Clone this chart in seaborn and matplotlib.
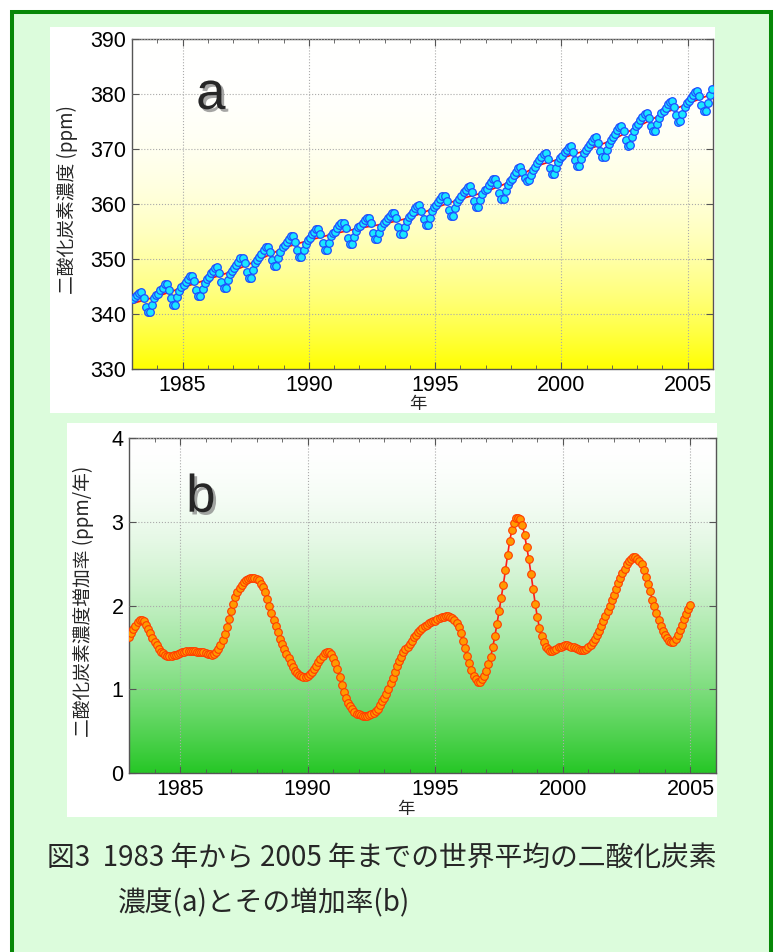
import numpy as np
import pandas as pd
import matplotlib.pyplot as plt
import matplotlib.patheffects as pe
from matplotlib.patches import Rectangle
from matplotlib.ticker import MultipleLocator
import seaborn as sns

# (a) 世界平均の月平均濃度 ppm, 1983年1月〜2005年12月
co2_monthly = [
    342.7, 343.1, 343.5, 343.8, 344.0, 342.9, 341.2, 340.3, 340.4, 341.7, 342.9, 343.5,  # 1983
    343.7, 344.3, 344.8, 345.4, 345.4, 344.4, 342.9, 341.7, 341.7, 343.1, 344.2, 344.9,  # 1984
    345.3, 345.9, 346.4, 346.9, 347.0, 346.0, 344.4, 343.2, 343.3, 344.6, 345.7, 346.4,  # 1985
    346.8, 347.4, 347.9, 348.4, 348.5, 347.5, 345.9, 344.7, 344.8, 346.1, 347.2, 347.9,  # 1986
    348.3, 349.0, 349.5, 350.1, 350.2, 349.2, 347.7, 346.6, 346.6, 348.0, 349.2, 349.9,  # 1987
    350.3, 351.0, 351.6, 352.1, 352.2, 351.3, 349.8, 348.7, 348.8, 350.1, 351.3, 352.1,  # 1988
    352.5, 353.1, 353.6, 354.1, 354.1, 353.1, 351.6, 350.4, 350.4, 351.7, 352.8, 353.5,  # 1989
    353.9, 354.5, 355.0, 355.5, 355.5, 354.5, 352.9, 351.7, 351.7, 353.0, 354.1, 354.8,  # 1990
    355.0, 355.6, 356.1, 356.6, 356.6, 355.6, 353.9, 352.7, 352.7, 354.0, 355.1, 355.8,  # 1991
    356.0, 356.6, 357.1, 357.5, 357.5, 356.5, 354.8, 353.6, 353.6, 354.8, 355.9, 356.6,  # 1992
    356.9, 357.4, 357.9, 358.4, 358.4, 357.4, 355.8, 354.6, 354.6, 355.9, 357.0, 357.7,  # 1993
    358.0, 358.6, 359.2, 359.7, 359.8, 358.8, 357.3, 356.1, 356.2, 357.5, 358.7, 359.4,  # 1994
    359.8, 360.4, 360.9, 361.5, 361.5, 360.5, 359.0, 357.8, 357.8, 359.2, 360.3, 361.0,  # 1995
    361.5, 362.1, 362.6, 363.1, 363.2, 362.2, 360.6, 359.5, 359.5, 360.7, 361.8, 362.5,  # 1996
    362.8, 363.4, 364.0, 364.5, 364.6, 363.6, 362.0, 360.9, 361.0, 362.3, 363.5, 364.2,  # 1997
    364.6, 365.3, 365.9, 366.5, 366.7, 365.9, 364.8, 364.1, 364.3, 365.2, 366.1, 366.8,  # 1998
    367.4, 368.0, 368.5, 369.1, 369.3, 368.2, 366.5, 365.4, 365.4, 366.6, 367.7, 368.4,  # 1999
    368.8, 369.4, 369.9, 370.4, 370.6, 369.5, 368.0, 366.9, 367.0, 368.1, 369.2, 369.9,  # 2000
    370.3, 370.9, 371.5, 372.0, 372.2, 371.1, 369.6, 368.5, 368.6, 369.8, 371.0, 371.7,  # 2001
    372.1, 372.8, 373.4, 374.0, 374.1, 373.2, 371.7, 370.6, 370.7, 372.1, 373.3, 374.1,  # 2002
    374.5, 375.2, 375.8, 376.4, 376.5, 375.6, 374.1, 373.2, 373.3, 374.5, 375.7, 376.5,  # 2003
    376.9, 377.5, 378.1, 378.6, 378.7, 377.7, 376.2, 375.0, 375.1, 376.4, 377.6, 378.3,  # 2004
    378.7, 379.3, 379.9, 380.4, 380.5, 379.6, 378.0, 376.9, 377.0, 378.4, 379.8, 380.9,  # 2005
]

# 長期トレンド(赤線), 各年1月1日
trend_years = list(range(1983, 2007))
co2_trend = [341.9, 343.2, 344.8, 346.3, 347.8, 349.8, 352.0, 353.4, 354.6, 355.6,
             356.4, 357.5, 359.3, 360.9, 362.2, 364.1, 366.9, 368.3, 369.8, 371.6,
             374.0, 376.4, 378.2, 380.1]

# (b) 増加率 ppm/年, 1983年1月〜2005年1月 (毎月)
growth_rate = [
    1.62, 1.67, 1.72, 1.76, 1.80, 1.83, 1.83, 1.81, 1.77, 1.72, 1.67, 1.61,  # 1983
    1.57, 1.53, 1.48, 1.45, 1.43, 1.41, 1.40, 1.40, 1.40, 1.41, 1.41, 1.42,  # 1984
    1.43, 1.44, 1.45, 1.46, 1.46, 1.46, 1.46, 1.46, 1.45, 1.45, 1.44, 1.44,  # 1985
    1.43, 1.42, 1.42, 1.41, 1.42, 1.45, 1.48, 1.53, 1.59, 1.66, 1.74, 1.84,  # 1986
    1.93, 2.02, 2.10, 2.16, 2.21, 2.25, 2.28, 2.30, 2.32, 2.33, 2.33, 2.33,  # 1987
    2.32, 2.30, 2.26, 2.22, 2.16, 2.08, 1.99, 1.91, 1.83, 1.76, 1.68, 1.60,  # 1988
    1.54, 1.48, 1.42, 1.37, 1.31, 1.26, 1.22, 1.19, 1.17, 1.16, 1.15, 1.15,  # 1989
    1.16, 1.18, 1.21, 1.24, 1.28, 1.32, 1.36, 1.40, 1.43, 1.45, 1.45, 1.42,  # 1990
    1.37, 1.31, 1.24, 1.15, 1.05, 0.97, 0.89, 0.83, 0.80, 0.76, 0.73, 0.71,  # 1991
    0.70, 0.69, 0.68, 0.68, 0.68, 0.69, 0.70, 0.72, 0.74, 0.77, 0.81, 0.86,  # 1992
    0.90, 0.94, 1.00, 1.07, 1.14, 1.21, 1.28, 1.34, 1.39, 1.44, 1.48, 1.51,  # 1993
    1.54, 1.58, 1.62, 1.65, 1.68, 1.71, 1.73, 1.75, 1.77, 1.79, 1.80, 1.81,  # 1994
    1.82, 1.84, 1.85, 1.86, 1.86, 1.87, 1.87, 1.86, 1.85, 1.83, 1.79, 1.74,  # 1995
    1.67, 1.58, 1.49, 1.40, 1.31, 1.23, 1.16, 1.12, 1.09, 1.09, 1.12, 1.16,  # 1996
    1.22, 1.30, 1.38, 1.50, 1.63, 1.78, 1.93, 2.09, 2.25, 2.42, 2.60, 2.77,  # 1997
    2.90, 2.99, 3.04, 3.05, 3.03, 2.96, 2.84, 2.70, 2.55, 2.38, 2.20, 2.02,  # 1998
    1.86, 1.73, 1.63, 1.56, 1.51, 1.48, 1.46, 1.46, 1.47, 1.48, 1.50, 1.51,  # 1999
    1.52, 1.53, 1.53, 1.52, 1.51, 1.50, 1.49, 1.48, 1.47, 1.47, 1.47, 1.48,  # 2000
    1.50, 1.53, 1.56, 1.60, 1.65, 1.70, 1.76, 1.82, 1.87, 1.94, 2.00, 2.07,  # 2001
    2.13, 2.20, 2.27, 2.33, 2.39, 2.44, 2.49, 2.53, 2.56, 2.58, 2.58, 2.56,  # 2002
    2.53, 2.49, 2.42, 2.34, 2.26, 2.17, 2.07, 1.99, 1.91, 1.83, 1.76, 1.70,  # 2003
    1.65, 1.61, 1.58, 1.57, 1.57, 1.60, 1.65, 1.71, 1.77, 1.84, 1.90, 1.96,  # 2004
    2.01,                                                                    # 2005
]

year_ticks = [1985, 1990, 1995, 2000, 2005]
co2_ticks = [330, 340, 350, 360, 370, 380, 390]
rate_ticks = [0, 1, 2, 3, 4]

caption_1 = "図3  1983 年から 2005 年までの世界平均の二酸化炭素"
caption_2 = "濃度(a)とその増加率(b)"

df_a = pd.DataFrame({"year": 1983 + (np.arange(len(co2_monthly)) + 0.5) / 12,
                     "co2": co2_monthly})
df_t = pd.DataFrame({"year": trend_years, "co2": co2_trend})
df_b = pd.DataFrame({"year": 1983 + np.arange(len(growth_rate)) / 12,
                     "rate": growth_rate})

sns.set_style("ticks")
plt.rcParams['font.family'] = ['Liberation Sans', 'Noto Sans CJK JP']
jp = ['Noto Sans CJK JP', 'Liberation Sans']

W, H = 774, 952
fig = plt.figure(figsize=(W / 100, H / 100), dpi=100, facecolor='white')


def fx(px):
    return px / W


def fy(py):
    return 1 - py / H


# 外枠(薄緑 + 濃緑の線)
fig.patches.append(Rectangle((fx(12), -0.05), fx(771) - fx(12), fy(12) + 0.05,
                             transform=fig.transFigure, facecolor='#DCFCDC',
                             edgecolor='#078707', linewidth=2.9, zorder=-10))
# パネルの白い台紙
fig.patches.append(Rectangle((fx(50), fy(413)), fx(715) - fx(50), fy(27) - fy(413),
                             transform=fig.transFigure, facecolor='white',
                             edgecolor='none', zorder=-9))
fig.patches.append(Rectangle((fx(67), fy(817)), fx(717) - fx(67), fy(423) - fy(817),
                             transform=fig.transFigure, facecolor='white',
                             edgecolor='none', zorder=-9))

ax1 = fig.add_axes([fx(132), fy(369), fx(713) - fx(132), fy(39) - fy(369)])
ax2 = fig.add_axes([fx(129), fy(773), fx(716) - fx(129), fy(438) - fy(773)])


def gradient(ax, bottom_rgb, power):
    t = np.linspace(0, 1, 300)[:, None, None] ** power
    img = (1 - t) * np.array([1.0, 1.0, 1.0]) + t * np.array(bottom_rgb)
    x0, x1 = ax.get_xlim()
    y0, y1 = ax.get_ylim()
    ax.imshow(img, extent=[x0, x1, y0, y1], origin='upper', aspect='auto', zorder=-1)
    ax.set_xlim(x0, x1)
    ax.set_ylim(y0, y1)


def style(ax, yticks):
    ax.set_xticks(year_ticks)
    ax.set_xticklabels([str(y) for y in year_ticks])
    ax.set_yticks(yticks)
    ax.set_yticklabels([str(v) for v in yticks])
    ax.xaxis.set_minor_locator(MultipleLocator(1))
    ax.tick_params(which='both', direction='in', top=True, right=True,
                   colors='#555555', labelcolor='black')
    ax.tick_params(which='major', length=5, labelsize=15.5, pad=4)
    ax.tick_params(which='minor', length=3)
    ax.grid(True, which='major', ls=':', color='#AAAAAA', lw=0.8)
    ax.set_axisbelow(False)
    for s in ax.spines.values():
        s.set_color('#555555')
        s.set_linewidth(1.0)


shadow = [pe.withSimplePatchShadow(offset=(2, -2), shadow_rgbFace='#808080', alpha=0.7)]

# (a)
ax1.set_xlim(1983, 2006)
ax1.set_ylim(330, 390)
gradient(ax1, [1.0, 1.0, 0.0], 2.6)
sns.lineplot(data=df_t, x='year', y='co2', ax=ax1, color='#FF1010', lw=1.2, zorder=2)
sns.scatterplot(data=df_a, x='year', y='co2', ax=ax1, s=30, color='#1AE6FF',
                edgecolor='#1E4DFF', linewidth=0.9, zorder=3)
style(ax1, co2_ticks)
ax1.set_xlabel('年', fontsize=12.5, family=jp)
ax1.set_ylabel('二酸化炭素濃度 (ppm)', fontsize=13.5, family=jp)
ax1.xaxis.set_label_coords(0.492, -0.107)
ax1.xaxis.label.set_va('center')
ax1.yaxis.set_label_coords(-0.112, 0.512)
ax1.yaxis.label.set_va('center')
ax1.text(1985.54, 377.3, 'a', fontsize=38, ha='left', va='baseline', path_effects=shadow)

# (b)
ax2.set_xlim(1983, 2006)
ax2.set_ylim(0, 4)
gradient(ax2, [0.15, 0.78, 0.15], 1.8)
sns.lineplot(data=df_b, x='year', y='rate', ax=ax2, color='#FF1A1A', lw=1.2,
             marker='o', markersize=5.5, markerfacecolor='#FF9A00',
             markeredgecolor='#FF3C00', markeredgewidth=0.8, zorder=3)
style(ax2, rate_ticks)
ax2.set_xlabel('年', fontsize=12.5, family=jp)
ax2.set_ylabel('二酸化炭素濃度増加率 (ppm/年)', fontsize=13.5, family=jp)
ax2.xaxis.set_label_coords(0.472, -0.108)
ax2.xaxis.label.set_va('center')
ax2.yaxis.set_label_coords(-0.078, 0.512)
ax2.yaxis.label.set_va('center')
ax2.text(1985.24, 3.12, 'b', fontsize=38, ha='left', va='baseline', path_effects=shadow)

# 図の説明
fig.text(fx(47), fy(858), caption_1, fontsize=20, family=jp, va='center', ha='left')
fig.text(fx(118), fy(903), caption_2, fontsize=20, family=jp, va='center', ha='left')

fig.savefig('out.png', dpi=100, facecolor=fig.get_facecolor())
